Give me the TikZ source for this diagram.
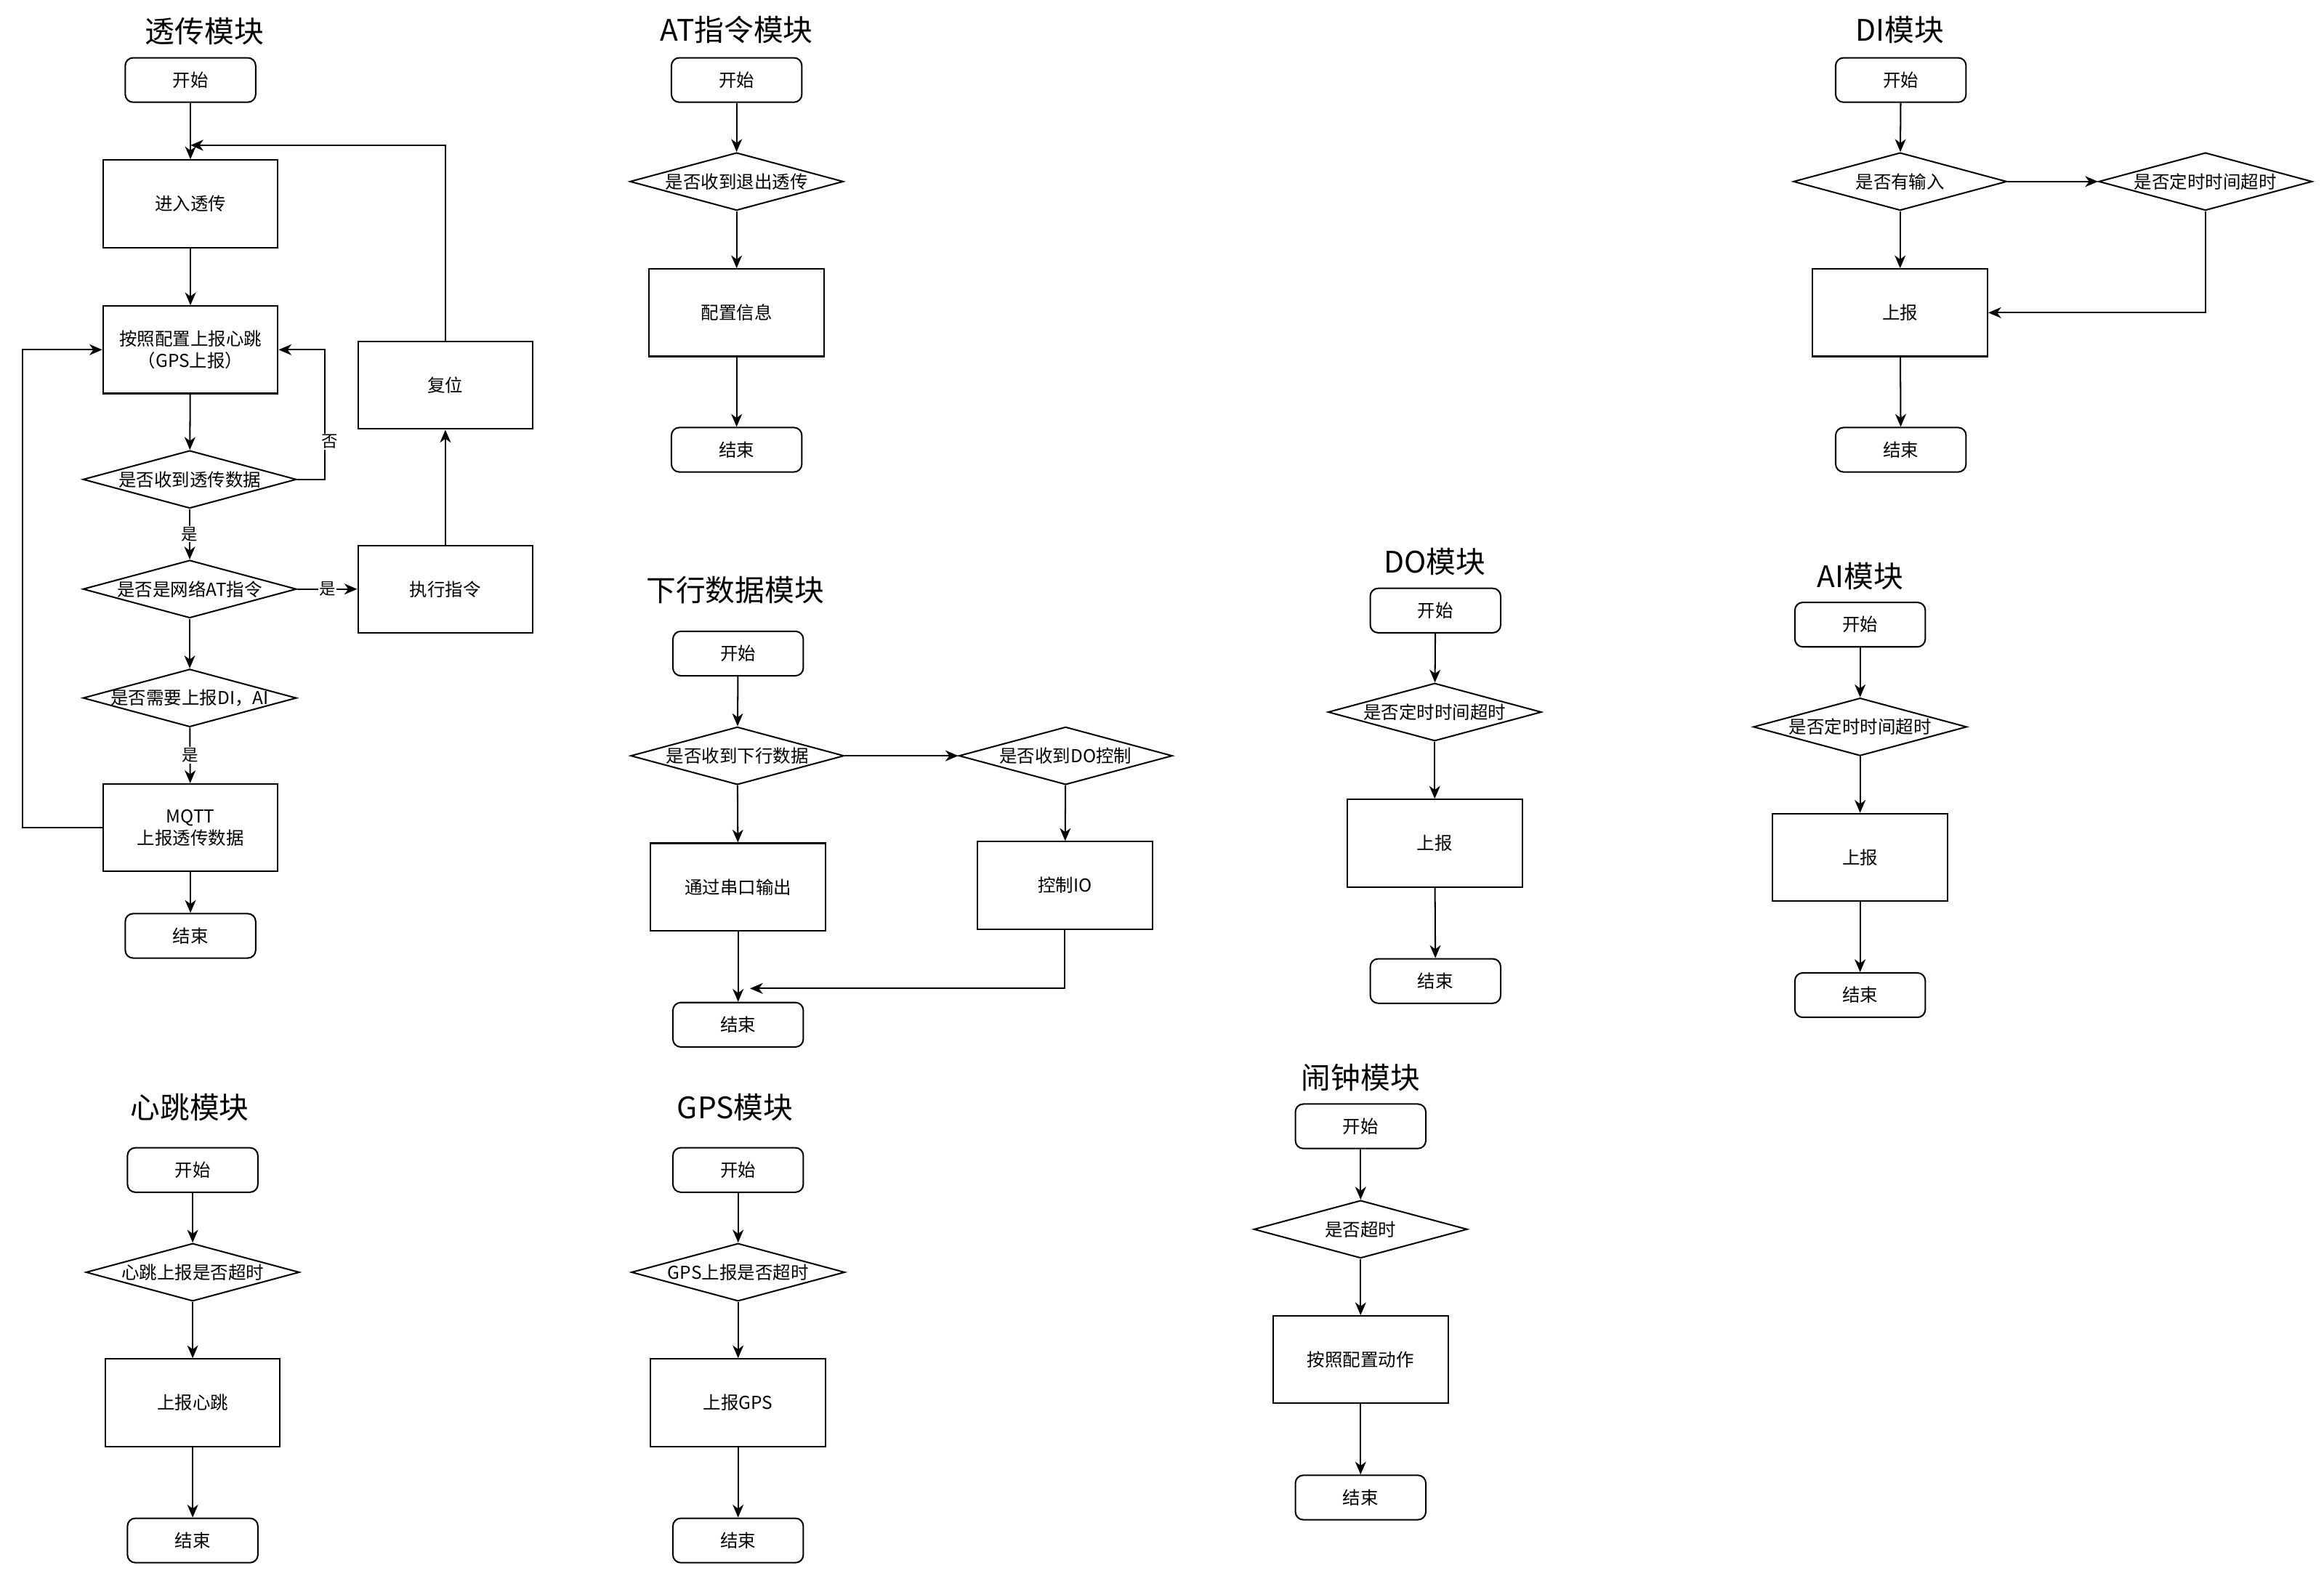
\documentclass[tikz,border=0pt]{standalone}
\usepackage{fontspec}
\setmainfont{Noto Sans CJK SC}
\usetikzlibrary{shapes.geometric,arrows.meta}
\newcommand{\dtxt}[1]{\makebox[0pt]{#1}}

\begin{document}
\begin{tikzpicture}[x=0.75pt,y=-0.75pt,line width=0.75pt,>={Stealth[length=6.5pt,width=5.5pt,inset=2pt]},->]
        \tikzstyle{terminal}=[rectangle,rounded corners=4pt,draw=black,minimum width=66pt,minimum height=22.5pt,font=\fontsize{9}{11}\selectfont]
        \tikzstyle{process}=[rectangle,draw=black,minimum width=88.5pt,minimum height=44.25pt,align=center,font=\fontsize{9}{11}\selectfont]
        \tikzstyle{decision}=[diamond,draw=black,minimum width=108pt,minimum height=29.25pt,inner sep=0pt,aspect=3.6,font=\fontsize{9}{11}\selectfont]
        \tikzstyle{heading}=[font=\fontsize{15}{18}\selectfont]
        \tikzstyle{tag}=[fill=white,inner sep=0.5pt,font=\fontsize{8.25}{10}\selectfont]
        \tikzstyle{edge}=[draw]
        \useasboundingbox (0,0) rectangle (1568,1063);
       % 透传模块
       \begin{scope}
         \node [heading] (tc0) at (138,21) {透传模块};
         \node [terminal] (tc1) at (128.5,54) {开始};
         \node [process] (tc2) at (128.5,137.5) {进入透传};
         \node [process] (tc3) at (128.5,236) {按照配置上报心跳\\（GPS上报）};
         \node [decision] (tc4) at (128,323.5) {\dtxt{是否收到透传数据}};
         \node [decision] (tc5) at (128,397.5) {\dtxt{是否是网络AT指令}};
         \node [decision] (tc6) at (128,471) {\dtxt{是否需要上报DI，AI}};
         \node [process] (tc7) at (128.5,558.5) {MQTT\\上报透传数据};
         \node [terminal] (tc8) at (128.5,631.5) {结束};
         \node [process] (tc9) at (300.5,397.5) {执行指令};
         \node [process] (tc10) at (300.5,260) {复位};
         \coordinate (tcj1) at (128.5,98);
         \coordinate (tcj2) at (219,236);
         \coordinate (tcj3) at (15,236);
         \path[edge] (tc1) edge (tc2);
         \path[edge] (tc2) edge (tc3);
         \path[edge] (tc3) edge (tc4);
         \path[edge] (tc4) edge node[tag] {是} (tc5);
         \path[edge] (tc5) edge (tc6);
         \path[edge] (tc6) edge node[tag] {是} (tc7);
         \path[edge] (tc7) edge (tc8);
         \path[edge] (tc5) edge node[tag] {是} (tc9);
         \path[edge] (tc9) edge (tc10);
         \path[edge] (tc10) |- (tcj1);
         \path[edge] (tc4.east) -| (tcj2) -- (tc3.east);
         \path[edge] (tc7.west) -| (tcj3) -- (tc3.west);
         \node [tag] at (222.5,298) {否};
        \end{scope}
       % AT指令模块
       \begin{scope}
         \node [heading] (at0) at (497,20) {AT指令模块};
         \node [terminal] (at1) at (497,54) {开始};
         \node [decision] (at2) at (497,122.5) {\dtxt{是否收到退出透传}};
         \node [process] (at3) at (497,211) {配置信息};
         \node [terminal] (at4) at (497,303.5) {结束};
         \path[edge] (at1) edge (at2);
         \path[edge] (at2) edge (at3);
         \path[edge] (at3) edge (at4);
        \end{scope}
       % 下行数据模块
       \begin{scope}
         \node [heading] (dl0) at (496,398) {下行数据模块};
         \node [terminal] (dl1) at (498,441) {开始};
         \node [decision] (dl2) at (497.5,510) {\dtxt{是否收到下行数据}};
         \node [decision] (dl3) at (719,510) {\dtxt{是否收到DO控制}};
         \node [process] (dl4) at (498,598.5) {通过串口输出};
         \node [process] (dl5) at (718.5,597.5) {控制IO};
         \node [terminal] (dl6) at (498,691.5) {结束};
         \coordinate (dlj) at (506,667);
         \path[edge] (dl1) edge (dl2);
         \path[edge] (dl2) edge (dl3);
         \path[edge] (dl2) edge (dl4);
         \path[edge] (dl3) edge (dl5);
         \path[edge] (dl4) edge (dl6);
         \path[edge] (dl5) |- (dlj);
        \end{scope}
       % DI模块
       \begin{scope}
         \node [heading] (di0) at (1282,20) {DI模块};
         \node [terminal] (di1) at (1282.5,54) {开始};
         \node [decision] (di2) at (1282,122.5) {\dtxt{是否有输入}};
         \node [decision] (di3) at (1488,122.5) {\dtxt{是否定时时间超时}};
         \node [process] (di4) at (1282,211) {上报};
         \node [terminal] (di5) at (1282.5,303.5) {结束};
         \path[edge] (di1) edge (di2);
         \path[edge] (di2) edge (di3);
         \path[edge] (di2) edge (di4);
         \path[edge] (di3) |- (di4);
         \path[edge] (di4) edge (di5);
        \end{scope}
       % DO模块
       \begin{scope}
         \node [heading] (do0) at (968,379) {DO模块};
         \node [terminal] (do1) at (968.5,412) {开始};
         \node [decision] (do2) at (968,480.5) {\dtxt{是否定时时间超时}};
         \node [process] (do3) at (968,569) {上报};
         \node [terminal] (do4) at (968.5,662) {结束};
         \path[edge] (do1) edge (do2);
         \path[edge] (do2) edge (do3);
         \path[edge] (do3) edge (do4);
        \end{scope}
       % AI模块
       \begin{scope}
         \node [heading] (ai0) at (1255,389) {AI模块};
         \node [terminal] (ai1) at (1255,421.5) {开始};
         \node [decision] (ai2) at (1255,490.5) {\dtxt{是否定时时间超时}};
         \node [process] (ai3) at (1255,578.5) {上报};
         \node [terminal] (ai4) at (1255,671.5) {结束};
         \path[edge] (ai1) edge (ai2);
         \path[edge] (ai2) edge (ai3);
         \path[edge] (ai3) edge (ai4);
        \end{scope}
       % 闹钟模块
       \begin{scope}
         \node [heading] (nz0) at (918,727) {闹钟模块};
         \node [terminal] (nz1) at (918,760) {开始};
         \node [decision] (nz2) at (918,829.5) {\dtxt{是否超时}};
         \node [process] (nz3) at (918,917.5) {按照配置动作};
         \node [terminal] (nz4) at (918,1010.5) {结束};
         \path[edge] (nz1) edge (nz2);
         \path[edge] (nz2) edge (nz3);
         \path[edge] (nz3) edge (nz4);
        \end{scope}
       % 心跳模块
       \begin{scope}
         \node [heading] (hb0) at (128,747) {心跳模块};
         \node [terminal] (hb1) at (130,789.5) {开始};
         \node [decision] (hb2) at (130,858.5) {\dtxt{心跳上报是否超时}};
         \node [process] (hb3) at (130,946.5) {上报心跳};
         \node [terminal] (hb4) at (130,1039.5) {结束};
         \path[edge] (hb1) edge (hb2);
         \path[edge] (hb2) edge (hb3);
         \path[edge] (hb3) edge (hb4);
        \end{scope}
       % GPS模块
       \begin{scope}
         \node [heading] (gp0) at (496,747) {GPS模块};
         \node [terminal] (gp1) at (498,789.5) {开始};
         \node [decision] (gp2) at (498,858.5) {\dtxt{GPS上报是否超时}};
         \node [process] (gp3) at (498,946.5) {上报GPS};
         \node [terminal] (gp4) at (498,1039.5) {结束};
         \path[edge] (gp1) edge (gp2);
         \path[edge] (gp2) edge (gp3);
         \path[edge] (gp3) edge (gp4);
        \end{scope}
      \end{tikzpicture}
\end{document}
